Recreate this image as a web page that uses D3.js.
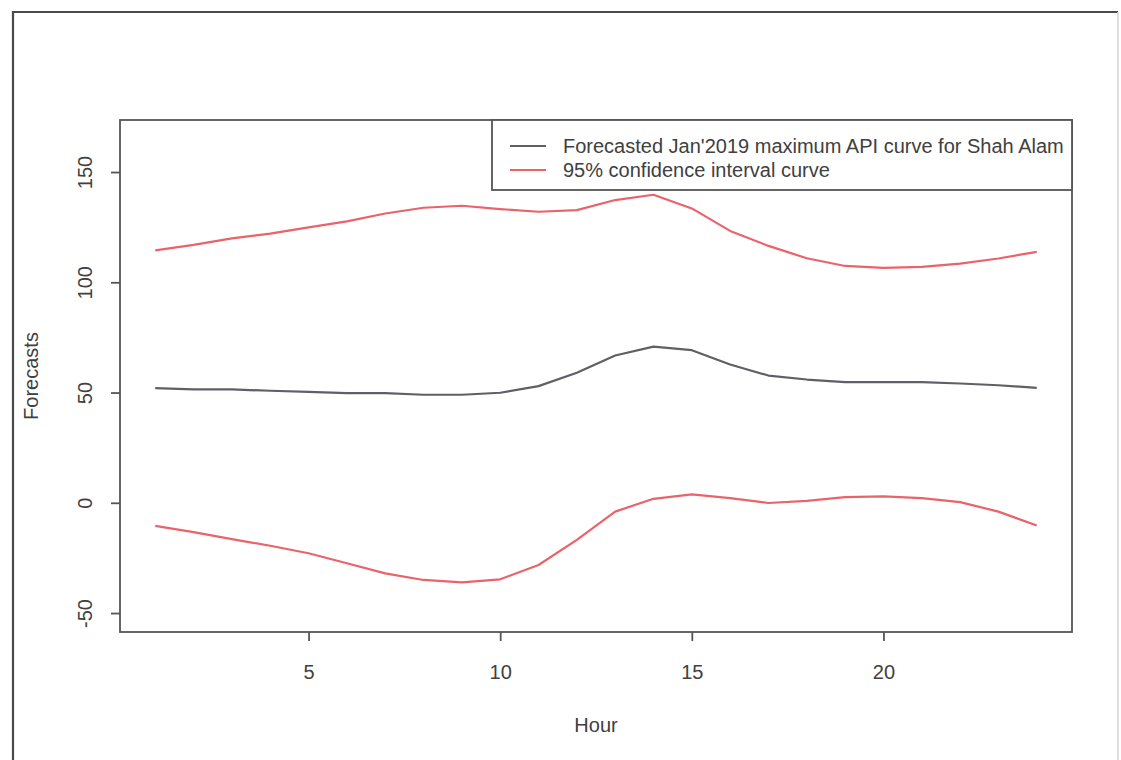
<!DOCTYPE html>
<html>
<head>
<meta charset="utf-8">
<script src="https://cdn.jsdelivr.net/npm/d3@7"></script>
<style>
  html, body { margin: 0; padding: 0; background: #fff; }
  svg { display: block; }
  text { font-family: "Liberation Sans", Arial, sans-serif; }
</style>
</head>
<body>
<svg id="chart" width="1121" height="760"></svg>
<script>
// Hourly forecast of maximum API for Shah Alam, Jan 2019, with 95% band
const hours = d3.range(1, 25);
const forecast = [52.0, 51.4, 51.4, 50.8, 50.3, 49.7, 49.7, 49.0, 49.0, 49.9, 52.9, 59.0,
                  66.8, 70.8, 69.2, 62.7, 57.7, 55.9, 54.7, 54.7, 54.7, 54.1, 53.3, 52.1];
const upper = [114.5, 117.0, 119.9, 122.1, 124.9, 127.6, 131.2, 133.8, 134.7, 133.2, 132.0, 132.7,
               137.3, 139.7, 133.5, 123.3, 116.5, 110.9, 107.4, 106.5, 107.0, 108.5, 110.8, 113.8];
const lower = [-10.5, -13.3, -16.5, -19.5, -22.9, -27.4, -32.0, -35.0, -36.1, -34.7, -28.2, -16.8,
               -4.0, 1.8, 3.8, 2.1, -0.1, 0.9, 2.6, 2.9, 2.1, 0.3, -4.0, -10.3];
const xTicks = [5, 10, 15, 20];
const yTicks = [-50, 0, 50, 100, 150];
const legendLabels = ["Forecasted Jan'2019 maximum API curve for Shah Alam", "95% confidence interval curve"];

const frameColor = "#555";
const textColor = "#404040";
const greyLine = "#5f6066";
const redLine = "#e9636a";
const fontSize = "20px";

const svg = d3.select("#chart");
const plot = { left: 120, right: 1072, top: 120, bottom: 632 };

const x = d3.scaleLinear().domain([0.08, 24.92]).range([plot.left, plot.right]);
const y = d3.scaleLinear().domain([-58.6, 173.6]).range([plot.bottom, plot.top]);

// outer figure border: dark top/left, faint right
svg.append("path")
  .attr("d", "M13,770 L13,12 L1118,12")
  .attr("fill", "none").attr("stroke", "#4a4a4a").attr("stroke-width", 2.2);
svg.append("line")
  .attr("x1", 1118).attr("x2", 1118).attr("y1", 12).attr("y2", 760)
  .attr("stroke", "#d4d4d4").attr("stroke-width", 1.5);

// series
const line = d3.line().x((d, i) => x(hours[i])).y(d => y(d));
[[upper, redLine], [lower, redLine], [forecast, greyLine]].forEach(([vals, col]) => {
  svg.append("path").datum(vals)
    .attr("d", line)
    .attr("fill", "none")
    .attr("stroke", col)
    .attr("stroke-width", 2.2)
    .attr("stroke-linejoin", "round");
});

// plot frame
svg.append("rect")
  .attr("x", plot.left).attr("y", plot.top)
  .attr("width", plot.right - plot.left).attr("height", plot.bottom - plot.top)
  .attr("fill", "none").attr("stroke", frameColor).attr("stroke-width", 1.8);

// x axis
const xAxis = svg.append("g")
  .attr("transform", `translate(0,${plot.bottom})`)
  .call(d3.axisBottom(x).tickValues(xTicks).tickSize(9).tickSizeOuter(0).tickPadding(24));
xAxis.select(".domain").remove();
xAxis.selectAll(".tick line").attr("stroke", frameColor).attr("stroke-width", 1.8);
xAxis.selectAll(".tick text")
  .attr("fill", textColor).style("font-size", fontSize)
  .style("font-family", "'Liberation Sans', Arial, sans-serif");

// y axis with rotated labels
const yAxis = svg.append("g")
  .attr("transform", `translate(${plot.left},0)`)
  .call(d3.axisLeft(y).tickValues(yTicks).tickSize(9).tickSizeOuter(0).tickFormat(d => String(d)));
yAxis.select(".domain").remove();
yAxis.selectAll(".tick line").attr("stroke", frameColor).attr("stroke-width", 1.8);
yAxis.selectAll(".tick text")
  .attr("fill", textColor).style("font-size", fontSize)
  .style("font-family", "'Liberation Sans', Arial, sans-serif")
  .attr("x", null).attr("dy", null)
  .attr("text-anchor", "middle")
  .attr("transform", "translate(-28,0) rotate(-90)");

// axis titles
svg.append("text")
  .attr("x", (plot.left + plot.right) / 2).attr("y", 732)
  .attr("text-anchor", "middle")
  .attr("fill", textColor).style("font-size", fontSize)
  .text("Hour");
svg.append("text")
  .attr("transform", `translate(38,${(plot.top + plot.bottom) / 2}) rotate(-90)`)
  .attr("text-anchor", "middle")
  .attr("fill", textColor).style("font-size", fontSize)
  .text("Forecasts");

// legend
const legend = svg.append("g");
legend.append("rect")
  .attr("x", 492).attr("y", plot.top)
  .attr("width", plot.right - 492).attr("height", 70)
  .attr("fill", "#fff").attr("stroke", frameColor).attr("stroke-width", 1.8);
[greyLine, redLine].forEach((col, i) => {
  const ly = 146 + i * 24;
  legend.append("line")
    .attr("x1", 510).attr("x2", 546).attr("y1", ly).attr("y2", ly)
    .attr("stroke", col).attr("stroke-width", 2.2);
  legend.append("text")
    .attr("x", 563).attr("y", ly).attr("dy", "0.35em")
    .attr("fill", textColor).style("font-size", fontSize)
    .text(legendLabels[i]);
});
</script>
</body>
</html>
